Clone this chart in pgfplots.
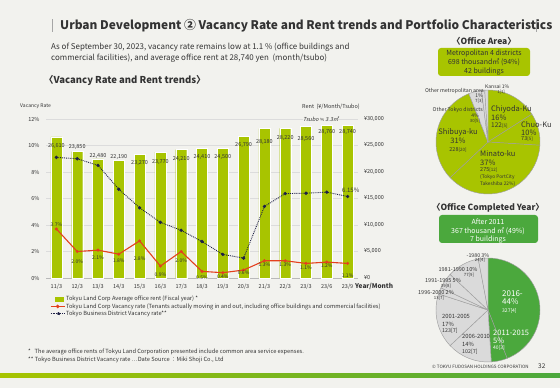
\documentclass[border=0pt]{standalone}
\usepackage{pgfplots}
\usepackage{pgfplotstable}
\pgfplotsset{compat=1.18}
\usepackage{fontspec}
\setmainfont{Noto Sans CJK JP}
\newfontfamily\dejavu{DejaVu Sans}
\definecolor{bg}{HTML}{F2F2EE}
\definecolor{txt}{HTML}{333333}
\definecolor{ygreen}{HTML}{A8C400}
\definecolor{dgreen}{HTML}{4BA83D}
\definecolor{redl}{HTML}{E4401E}
\definecolor{navy}{HTML}{1E2046}
\definecolor{pgray}{HTML}{DADADA}
\definecolor{lgrid}{HTML}{DCDCDC}
\newcommand\fs[1]{\fontsize{#1}{#1}\selectfont}
\pgfplotstableread{
x y l
0 24900 26,610
1 24750 23,850
2 23020 22,480
3 22830 22,190
4 21700 23,270
5 21890 23,770
6 22450 24,210
7 22830 24,410
8 22830 24,500
9 25090 26,790
10 25660 28,180
11 26400 28,220
12 26230 28,560
13 27550 28,760
14 27550 28,740
}\rentlabels
\pgfplotstableread{
x y l
0 4.05 3.7
1 1.20 2.0
2 1.50 2.1
3 1.28 1.8
4 1.43 2.8
5 0.23 0.9
6 1.28 2.0
7 0.05 0.5
8 0.08 0.4
9 0.38 0.6
10 0.98 1.3
11 0.98 1.3
12 0.75 1.1
13 0.90 1.2
14 0.15 1.1
}\redlabels
\begin{document}
\begin{tikzpicture}[x=1pt,y=1pt]
\useasboundingbox (0,0) rectangle (560,388);
\fill[bg] (0,0) rectangle (560,388);
\shade[left color=ygreen, right color=dgreen] (0,10) rectangle (560,14);
% title
\draw[gray!70, line width=0.8pt] (52,356) -- (52,369);
\draw[gray!70, line width=0.8pt] (536,356) -- (536,369);
\node[anchor=base west, inner sep=0, text=txt, font=\fs{11.9}\bfseries] at (60,358) {Urban Development ② Vacancy Rate and Rent trends and Portfolio Characteristics};
\node[anchor=base west, inner sep=0, text=txt, font=\fs{7.95}] at (51,338.3) {As of September 30, 2023, vacancy rate remains low at 1.1 \% (office buildings and};
\node[anchor=base west, inner sep=0, text=txt, font=\fs{7.95}] at (51,327.3) {commercial facilities), and average office rent at 28,740 yen\ \ (month/tsubo)};
\node[anchor=base west, inner sep=0, text=txt, font=\fs{9.5}\bfseries] at (44,304.6) {〈Vacancy Rate and Rent trends〉};
% axis titles
\node[anchor=west, inner sep=0, text=txt, font=\fs{5}] at (20,282) {Vacancy Rate};
\node[anchor=west, inner sep=0, text=txt, font=\fs{5.5}] at (302,281) {Rent\ \ (¥/Month/Tsubo)};
\node[anchor=west, inner sep=0, text=txt, font=\fs{6.5}\bfseries] at (355,102) {Year/Month};

\begin{axis}[
  at={(46pt,110pt)}, anchor=south west, scale only axis,
  width=312pt, height=159pt,
  xmin=-0.5, xmax=14.5, ymin=0, ymax=30000,
  axis y line*=right, axis x line*=bottom,
  axis line style={draw=none},
  x axis line style={draw=gray!55, line width=0.5pt},
  major tick length=0pt, scaled y ticks=false,
  ytick={0,5000,10000,15000,20000,25000,30000},
  yticklabels={¥0,{¥5,000},{¥10,000},{¥15,000},{¥20,000},{¥25,000},{¥30,000}},
  yticklabel style={font=\fs{5.5}, text=txt, anchor=west, xshift=2.5pt},
  xtick={0,...,14},
  xticklabels={11/3,12/3,13/3,14/3,15/3,16/3,17/3,18/3,19/3,20/3,21/3,22/3,23/3,23/6,23/9},
  xticklabel style={font=\fs{5.5}, text=txt, yshift=-3pt},
  ymajorgrids, grid style={draw=lgrid, line width=0.6pt},
  clip=false,
]
\addplot[ybar, bar width=11pt, fill=ygreen, draw=white, line width=0.4pt] coordinates {
(0,26610) (1,23850) (2,22480) (3,22190) (4,23270) (5,23770) (6,24210) (7,24410)
(8,24500) (9,26790) (10,28180) (11,28220) (12,28560) (13,28760) (14,28740)};
\addplot[only marks, mark=*, mark size=0pt, mark options={draw=none, fill=none},
  point meta=explicit symbolic, nodes near coords,
  every node near coord/.append style={anchor=center, font=\fs{5.5}, text=txt, inner sep=0pt}]
  table[x=x, y=y, meta=l] {\rentlabels};
\end{axis}

\begin{axis}[
  at={(46pt,110pt)}, anchor=south west, scale only axis,
  width=312pt, height=159pt,
  xmin=-0.5, xmax=14.5, ymin=0, ymax=12,
  axis y line*=left, hide x axis,
  axis line style={draw=none}, major tick length=0pt,
  ytick={0,2,4,6,8,10,12},
  yticklabels={0\%,2\%,4\%,6\%,8\%,10\%,12\%},
  yticklabel style={font=\fs{5.5}, text=txt, anchor=east, xshift=-3pt},
  clip=false,
  legend style={at={(axis description cs:0.003,-0.095)}, anchor=north west, draw=none, fill=none,
    font=\fs{5.7}, text=txt, row sep=-0.5pt, nodes={inner sep=0.8pt}},
  legend cell align=left,
]
\addlegendimage{legend image code/.code={\fill[ygreen] (5pt,-2pt) rectangle (13pt,2pt);}}
\addlegendentry{Tokyu Land Corp Average office rent (Fiscal year) *}
\addplot[redl, line width=1.1pt, mark=*, mark size=0.9pt, mark options={fill=redl},
  legend image code/.code={\draw[redl,line width=1.1pt] (0pt,0pt)--(14pt,0pt); \fill[redl] (7pt,0pt) circle (1.2pt);}]
  coordinates {(0,3.7) (1,2.0) (2,2.1) (3,1.8) (4,2.8) (5,0.9) (6,2.0) (7,0.5) (8,0.4) (9,0.6) (10,1.3) (11,1.3) (12,1.1) (13,1.2) (14,1.1)};
\addlegendentry{Tokyu Land Corp Vacancy rate (Tenants actually moving in and out, including office buildings and commercial facilities)}
\addplot[navy, line width=0.9pt, densely dotted, mark=*, mark size=1.2pt, mark options={solid, fill=navy},
  legend image code/.code={\draw[navy,line width=0.9pt,densely dotted] (0pt,0pt)--(14pt,0pt); \fill[navy] (8pt,0pt) circle (1.3pt);}]
  coordinates {(0,9.1) (1,9.0) (2,8.5) (3,6.7) (4,5.3) (5,4.2) (6,3.6) (7,2.75) (8,1.78) (9,1.5) (10,5.4) (11,6.37) (12,6.4) (13,6.48) (14,6.15)};
\addlegendentry{Tokyo Business District Vacancy rate**}
\addplot[forget plot, only marks, mark=*, mark size=0pt, mark options={draw=none, fill=none},
  point meta=explicit symbolic, nodes near coords={\pgfplotspointmeta\%},
  every node near coord/.append style={anchor=center, font=\fs{5}, text=txt, inner sep=0pt}]
  table[x=x, y=y, meta=l] {\redlabels};
\addplot[forget plot, only marks, mark=*, mark size=0pt, mark options={draw=none, fill=none},
  point meta=explicit symbolic, nodes near coords,
  every node near coord/.append style={anchor=center, font=\fs{6}, text=txt, inner sep=0pt}]
  coordinates {(14.15,6.64) [6.15\%]};
\end{axis}
\node[anchor=west, inner sep=0.6pt, fill=bg, text=txt, font=\fs{5.5}\addfontfeature{FakeSlant=0.2}] at (302.4,269) {Tsubo {\dejavu\fs{5}≒} 3.3㎡};

% footnotes
\node[anchor=base west, inner sep=0, text=txt, font=\fs{5.7}] at (28,34) {*\ \ \ The average office rents of Tokyu Land Corporation presented include common area service expenses.};
\node[anchor=base west, inner sep=0, text=txt, font=\fs{5.7}] at (28,26) {** Tokyo Business District Vacancy rate …Date Source ：Miki Shoji Co., Ltd};
\node[anchor=base west, inner sep=0, text=txt, font=\fs{4.5}] at (432,19.5) {© TOKYU FUDOSAN HOLDINGS CORPORATION};
\node[anchor=base west, inner sep=0, text=txt, font=\fs{6.5}] at (538,19) {32};

% ---- Office Area ----
\node[anchor=base, inner sep=0, text=txt, font=\fs{8.5}\bfseries] at (484,343) {〈Office Area〉};
\fill[ygreen, rounded corners=3pt] (438,340) rectangle (530,312);
\node[anchor=base, inner sep=0, text=txt, font=\fs{7}] at (484,332.8) {Metropolitan 4 districts};
\node[anchor=base, inner sep=0, text=txt, font=\fs{7}] at (484,323.5) {698 thousand㎡ (94\%)};
\node[anchor=base, inner sep=0, text=txt, font=\fs{7}] at (484,314.8) {42 buildings};
\def\ang{90}
\foreach \p/\c in {16/ygreen,10/ygreen,37/ygreen,31/ygreen,4/pgray,1/pgray,1/pgray}{
  \pgfmathsetmacro\e{\ang-3.6*\p}
  \filldraw[fill=\c, draw=gray!75, line width=0.45pt] (488,246) -- ++(\ang:52) arc[start angle=\ang, end angle=\e, radius=52] -- cycle;
  \xdef\ang{\e}
}
\node[anchor=west, inner sep=0, text=txt, font=\fs{5}] at (485,301) {Kansai 1\%};
\node[inner sep=0, text=txt, font=\fs{4.2}] at (501,296) {1[1]};
\node[anchor=east, inner sep=0, text=txt, font=\fs{5.2}] at (484,297) {Other metropolitan area};
\node[inner sep=0, text=txt, font=\fs{5}] at (479,292.3) {1\%};
\node[inner sep=0, text=txt, font=\fs{4.3}] at (479,287.3) {7[3]};
\node[anchor=east, inner sep=0, text=txt, font=\fs{5.2}] at (483,278) {Other Tokyo districts};
\node[inner sep=0, text=txt, font=\fs{5}] at (475,272.3) {4\%};
\node[inner sep=0, text=txt, font=\fs{4.3}] at (475,267) {30[5]};
\node[anchor=west, inner sep=0, text=txt, font=\fs{7.5}] at (491,279) {Chiyoda-Ku};
\node[anchor=west, inner sep=0, text=txt, font=\fs{7.5}] at (491,270.5) {16\%};
\node[anchor=west, inner sep=0, text=txt] at (491,262) {{\fs{6.5}122}{\fs{4.5}[5]}};
\node[anchor=west, inner sep=0, text=txt, font=\fs{7.5}] at (521,263) {Chuo-Ku};
\node[anchor=west, inner sep=0, text=txt, font=\fs{7.5}] at (521,255.7) {10\%};
\node[anchor=west, inner sep=0, text=txt] at (521,248.7) {{\fs{5.5}73}{\fs{4.5}[5]}};
\node[inner sep=0, text=txt, font=\fs{7.5}] at (458,255.5) {Shibuya-ku};
\node[inner sep=0, text=txt, font=\fs{7.5}] at (458,247) {31\%};
\node[inner sep=0, text=txt] at (458,238.5) {{\fs{5.5}228}{\fs{4.5}[20]}};
\node[anchor=west, inner sep=0, text=txt, font=\fs{7.5}] at (480,234) {Minato-ku};
\node[anchor=west, inner sep=0, text=txt, font=\fs{7.5}] at (480,225) {37\%};
\node[anchor=west, inner sep=0, text=txt] at (480,218) {{\fs{5.5}275}{\fs{4.5}[12]}};
\node[anchor=west, inner sep=0, text=txt, font=\fs{4.8}] at (480,211) {(Tokyo PortCity};
\node[anchor=west, inner sep=0, text=txt, font=\fs{4.8}] at (480,204) {Takeshiba 22\%)};

% ---- Office Completed Year ----
\node[anchor=base, inner sep=0, text=txt, font=\fs{8.5}\bfseries] at (488,177) {〈Office Completed Year〉};
\fill[dgreen, rounded corners=3pt] (439,173) rectangle (538,145);
\node[anchor=base, inner sep=0, text=white, font=\fs{7}] at (488,163.8) {After 2011};
\node[anchor=base, inner sep=0, text=white, font=\fs{7}] at (488,154.8) {367 thousand ㎡ (49\%)};
\node[anchor=base, inner sep=0, text=white, font=\fs{7}] at (488,146.8) {7 buildings};
\def\ang{90}
\foreach \p/\c in {44/dgreen,5/dgreen,14/pgray,17/pgray,2/pgray,5/pgray,10/pgray,3/pgray}{
  \pgfmathsetmacro\e{\ang-3.6*\p}
  \filldraw[fill=\c, draw=gray!75, line width=0.45pt] (488,78) -- ++(\ang:52) arc[start angle=\ang, end angle=\e, radius=52] -- cycle;
  \xdef\ang{\e}
}
\node[inner sep=0, text=txt, font=\fs{5.3}] at (478,132.5) {-1980 3\%};
\node[inner sep=0, text=txt, font=\fs{4.3}] at (480,127.7) {24[4]};
\node[inner sep=0, text=txt, font=\fs{5.5}] at (458,118.5) {1981-1990 10\%};
\node[inner sep=0, text=txt, font=\fs{4.3}] at (469,113.3) {77[9]};
\node[inner sep=0, text=txt, font=\fs{5.5}] at (443,108) {1991-1995 5\%};
\node[inner sep=0, text=txt, font=\fs{4.3}] at (446,102.3) {39[8]};
\node[inner sep=0, text=txt, font=\fs{5.5}] at (436,95.5) {1996-2000 2\%};
\node[inner sep=0, text=txt, font=\fs{4.3}] at (439,89.5) {13[7]};
\node[anchor=west, inner sep=0, text=txt, font=\fs{5.8}] at (442,71.5) {2001-2005};
\node[anchor=west, inner sep=0, text=txt, font=\fs{5.8}] at (442,64) {17\%};
\node[anchor=west, inner sep=0, text=txt, font=\fs{5.3}] at (442,57) {123[7]};
\node[anchor=west, inner sep=0, text=txt, font=\fs{5.8}] at (462,51.5) {2006-2010};
\node[anchor=west, inner sep=0, text=txt, font=\fs{5.8}] at (462,43.5) {14\%};
\node[anchor=west, inner sep=0, text=txt, font=\fs{5.3}] at (462,35.7) {102[7]};
\node[anchor=west, inner sep=0, text=white, font=\fs{8}] at (502,94.7) {2016-};
\node[anchor=west, inner sep=0, text=white, font=\fs{8}] at (502,86.3) {44\%};
\node[anchor=west, inner sep=0, text=white, font=\fs{5}] at (502,77.3) {327[4]};
\node[anchor=west, inner sep=0, text=white, font=\fs{7.5}] at (493,55.3) {2011-2015};
\node[anchor=west, inner sep=0, text=white, font=\fs{7.5}] at (493,47.3) {5\%};
\node[anchor=west, inner sep=0, text=white, font=\fs{5}] at (493,39.7) {40[3]};
\end{tikzpicture}
\end{document}
